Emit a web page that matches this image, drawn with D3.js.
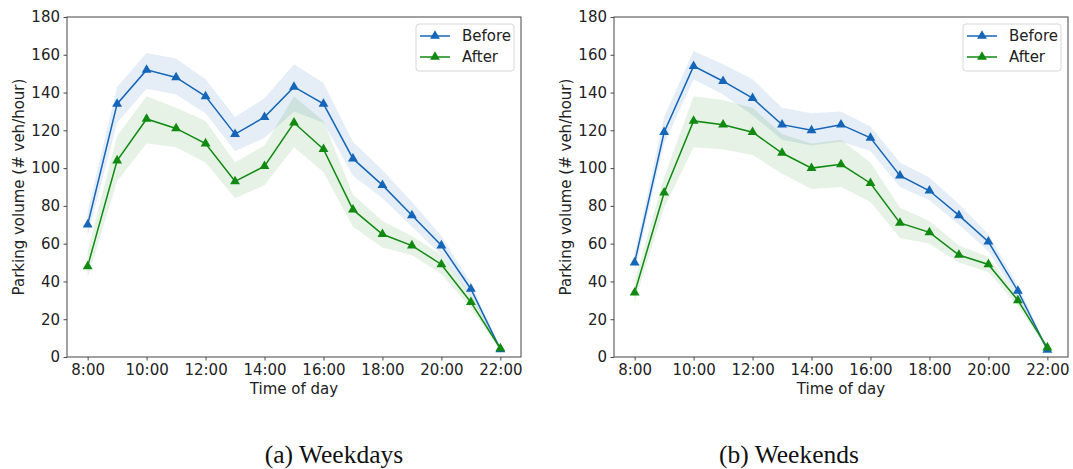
<!DOCTYPE html>
<html>
<head>
<meta charset="utf-8">
<script src="https://cdn.jsdelivr.net/npm/d3@7"></script>
<style>
  html, body { margin: 0; padding: 0; background: #fff; }
  svg { display: block; }
</style>
</head>
<body>
<svg id="chart" width="1073" height="469"></svg>
<script>
// Hours of the day (x values) and their tick labels
const hours = [8, 9, 10, 11, 12, 13, 14, 15, 16, 17, 18, 19, 20, 21, 22];
const tickHours = [8, 10, 12, 14, 16, 18, 20, 22];
const tickLabels = ["8:00", "10:00", "12:00", "14:00", "16:00", "18:00", "20:00", "22:00"];
const yTicks = [0, 20, 40, 60, 80, 100, 120, 140, 160, 180];
const seriesNames = ["Before", "After"];

// Weekdays: mean parking volume and confidence band
const weekdayBefore   = [70, 134, 152, 148, 138, 118, 127, 143, 134, 105, 91, 75, 59, 36, 4];
const weekdayBeforeLo = [64, 124, 142, 139, 129, 109, 116, 130, 124, 96, 84, 69, 54, 32, 3];
const weekdayBeforeHi = [77, 143, 161, 158, 147, 127, 137, 155, 145, 114, 99, 82, 64, 39, 5];
const weekdayAfter    = [48, 104, 126, 121, 113, 93, 101, 124, 110, 78, 65, 59, 49, 29, 4.5];
const weekdayAfterLo  = [42, 93, 113, 111, 103, 84, 91, 111, 98, 69, 58, 54, 44, 26, 3.5];
const weekdayAfterHi  = [56, 117, 138, 132, 125, 103, 112, 138, 125, 86, 72, 64, 54, 33, 5.5];

// Weekends: mean parking volume and confidence band
const weekendBefore   = [50, 119, 154, 146, 137, 123, 120, 123, 116, 96, 88, 75, 61, 35, 3.7];
const weekendBeforeLo = [45, 113, 147, 139, 128, 115, 112, 114, 109, 90, 83, 70, 56, 31, 3];
const weekendBeforeHi = [55, 127, 162, 155, 147, 132, 129, 130, 122, 103, 95, 81, 65, 38, 5];
const weekendAfter    = [34, 87, 125, 123, 119, 108, 100, 102, 92, 71, 66, 54, 49, 30, 5];
const weekendAfterLo  = [29, 79, 111, 110, 107, 97, 89, 90, 82, 63, 60, 50, 45, 27, 4];
const weekendAfterHi  = [40, 95, 138, 136, 132, 118, 113, 115, 103, 79, 72, 59, 53, 32, 6];

const colors = { Before: "#1565b8", After: "#118a11" };
const font = "'DejaVu Sans', sans-serif";

const panels = [
  { left: 67, right: 521, caption: "(a) Weekdays", capX: 334,
    series: [
      { name: "Before", mean: weekdayBefore, lo: weekdayBeforeLo, hi: weekdayBeforeHi },
      { name: "After",  mean: weekdayAfter,  lo: weekdayAfterLo,  hi: weekdayAfterHi }
    ] },
  { left: 614, right: 1068, caption: "(b) Weekends", capX: 789,
    series: [
      { name: "Before", mean: weekendBefore, lo: weekendBeforeLo, hi: weekendBeforeHi },
      { name: "After",  mean: weekendAfter,  lo: weekendAfterLo,  hi: weekendAfterHi }
    ] }
];

const plotTop = 17, plotBottom = 357;
const svg = d3.select("#chart");
svg.append("rect").attr("width", 1073).attr("height", 469).attr("fill", "#fff");

const tri = d3.symbol().type(d3.symbolTriangle).size(42);

panels.forEach(p => {
  const x = d3.scaleLinear().domain([7.3, 22.7]).range([p.left, p.right]);
  const y = d3.scaleLinear().domain([0, 180]).range([plotBottom, plotTop]);
  const g = svg.append("g");

  // confidence bands
  p.series.forEach(s => {
    const area = d3.area()
      .x((d, i) => x(hours[i]))
      .y0((d, i) => y(s.lo[i]))
      .y1((d, i) => y(s.hi[i]));
    g.append("path").datum(s.mean).attr("d", area)
      .attr("fill", colors[s.name]).attr("fill-opacity", 0.11).attr("stroke", "none");
  });

  // mean lines and markers
  p.series.forEach(s => {
    const line = d3.line().x((d, i) => x(hours[i])).y(d => y(d));
    g.append("path").datum(s.mean).attr("d", line)
      .attr("fill", "none").attr("stroke", colors[s.name]).attr("stroke-width", 1.5);
    g.selectAll(null).data(s.mean).join("path")
      .attr("d", tri)
      .attr("transform", (d, i) => `translate(${x(hours[i])},${y(d)})`)
      .attr("fill", colors[s.name]);
  });

  // axes
  const xAxis = d3.axisBottom(x).tickValues(tickHours)
    .tickFormat((d, i) => tickLabels[i]).tickSize(3.5).tickPadding(3.5);
  const yAxis = d3.axisLeft(y).tickValues(yTicks).tickSize(3.5).tickPadding(3.5);
  const gx = g.append("g").attr("transform", `translate(0,${plotBottom})`).call(xAxis);
  const gy = g.append("g").attr("transform", `translate(${p.left},0)`).call(yAxis);
  [gx, gy].forEach(a => {
    a.select(".domain").remove();
    a.selectAll(".tick line").attr("stroke", "#333").attr("stroke-width", 0.9);
    a.selectAll(".tick text").attr("fill", "#222")
      .style("font-family", font).style("font-size", "15px");
  });

  // frame
  g.append("rect").attr("x", p.left).attr("y", plotTop)
    .attr("width", p.right - p.left).attr("height", plotBottom - plotTop)
    .attr("fill", "none").attr("stroke", "#444").attr("stroke-width", 1);

  // axis titles
  g.append("text").attr("x", (p.left + p.right) / 2).attr("y", 394)
    .attr("text-anchor", "middle").attr("fill", "#222")
    .style("font-family", font).style("font-size", "15px").text("Time of day");
  g.append("text")
    .attr("transform", `translate(${p.left - 48},${(plotTop + plotBottom) / 2}) rotate(-90)`)
    .attr("text-anchor", "middle").attr("dominant-baseline", "middle").attr("fill", "#222")
    .style("font-family", font).style("font-size", "15px").text("Parking volume (# veh/hour)");

  // legend
  const lx = p.right - 105, ly = 24;
  const lg = g.append("g").attr("transform", `translate(${lx},${ly})`);
  lg.append("rect").attr("x", 0).attr("y", 0).attr("width", 98).attr("height", 47)
    .attr("rx", 3).attr("fill", "#fff").attr("fill-opacity", 0.8)
    .attr("stroke", "#d6d6d6").attr("stroke-width", 1);
  seriesNames.forEach((name, i) => {
    const cy = 12 + i * 21;
    lg.append("line").attr("x1", 4).attr("x2", 34).attr("y1", cy).attr("y2", cy)
      .attr("stroke", colors[name]).attr("stroke-width", 1.5);
    lg.append("path").attr("d", tri).attr("transform", `translate(19,${cy})`)
      .attr("fill", colors[name]);
    lg.append("text").attr("x", 46).attr("y", cy).attr("dominant-baseline", "central")
      .attr("fill", "#222").style("font-family", font).style("font-size", "15px").text(name);
  });

  // caption
  svg.append("text").attr("x", p.capX).attr("y", 463).attr("text-anchor", "middle")
    .attr("fill", "#111")
    .style("font-family", "'Liberation Serif', 'Times New Roman', Times, serif")
    .style("font-size", "25.5px").text(p.caption);
});
</script>
</body>
</html>
